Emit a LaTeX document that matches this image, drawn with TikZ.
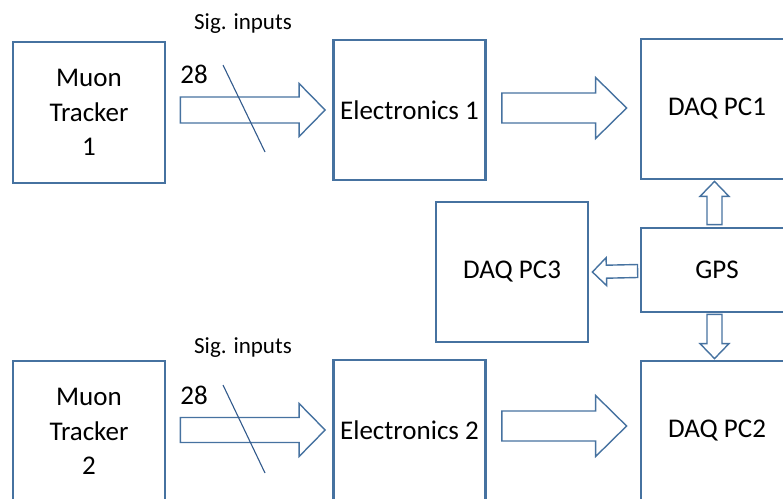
\documentclass[tikz,border=0pt]{standalone}
\usepackage{fontspec}
\setmainfont{Carlito}
\usetikzlibrary{calc}
\definecolor{boxblue}{RGB}{70,114,160}
\definecolor{slashblue}{RGB}{50,90,140}
\tikzset{
  blk/.style={draw=boxblue, line width=2.8pt, minimum width=152pt, minimum height=140pt, inner sep=0pt, align=center, font=\fontsize{27}{34.5}\selectfont},
  barrowstyle/.style={draw=boxblue, line width=1.4pt, line join=miter},
  lbl/.style={inner sep=0pt, font=\fontsize{27}{30}\selectfont},
  small/.style={inner sep=0pt, font=\fontsize{23}{26}\selectfont},
  slash/.style={draw=slashblue, line width=1.1pt}
}
% #1 tail, #2 tip, #3 shaft half width, #4 head half width, #5 head length (numbers in pt)
\newcommand{\blockarr}[5]{%
  \path let \p1=(#1), \p2=(#2), \n1={atan2(\y2-\y1,\x2-\x1)}, \n2={veclen(\x2-\x1,\y2-\y1)} in
    [barrowstyle] (\p1) -- ++(\n1+90:#3pt) -- ++(\n1:\n2-#5pt) -- ++(\n1+90:#4pt-#3pt)
    -- (\p2) -- ($(\p1)+(\n1:\n2-#5pt)+(\n1-90:#4pt)$) -- ++(\n1+90:#4pt-#3pt) -- ($(\p1)+(\n1-90:#3pt)$) -- cycle;}
\begin{document}
\begin{tikzpicture}[x=1pt,y=-1pt]
\useasboundingbox (0,0) rectangle (783,498);
\clip (0,0) rectangle (783,498);
\node[blk, minimum height=141pt] (mt1) at (89,112.5) {Muon\\Tracker\\1};
\node[blk] (el1) at (409.5,110) {Electronics 1};
\node[blk] (pc1) at (717,109) {DAQ PC1};
\node[blk] (pc3) at (512,272) {DAQ PC3};
\node[blk, minimum height=84pt] (gps) at (717,270) {GPS};
\node[blk, minimum height=141pt] (mt2) at (89,431.5) {Muon\\Tracker\\2};
\node[blk] (el2) at (409.5,430) {Electronics 2};
\node[blk] (pc2) at (717,431) {DAQ PC2};

\node[small] (sig1) at (243,24) {Sig. inputs};
\node[small] (sig2) at (243,348) {Sig. inputs};
\node[lbl] (n1) at (194,74) {28};
\node[lbl] (n2) at (194,395) {28};

% top row
\coordinate (a1s) at ($(mt1.east |- el1.west)+(14,0)$);
\coordinate (a1e) at ($(el1.west)+(-7,0)$);
\blockarr{a1s}{a1e}{13}{26.5}{26}
\coordinate (a2s) at ($(el1.east)+(15,-2)$);
\coordinate (a2e) at ($(pc1.west)+(-13,-1)$);
\blockarr{a2s}{a2e}{15}{30.5}{31}
% bottom row
\coordinate (a6s) at ($(mt2.east |- el2.west)+(14,0)$);
\coordinate (a6e) at ($(el2.west)+(-7,0)$);
\blockarr{a6s}{a6e}{12.5}{26.5}{26}
\coordinate (a7s) at ($(el2.east)+(15,-4)$);
\coordinate (a7e) at ($(pc2.west)+(-13,-5)$);
\blockarr{a7s}{a7e}{15}{30.5}{31}
% GPS arrows
\coordinate (g3s) at ($(gps.west)+(-2,1)$);
\coordinate (g3e) at ($(pc3.east)+(3,0)$);
\blockarr{g3s}{g3e}{6.5}{14}{14}
\coordinate (g1s) at ($(gps.north)+(-2.5,-2)$);
\coordinate (g1e) at ($(pc1.south)+(-2.5,1)$);
\blockarr{g1s}{g1e}{7.5}{14.5}{15}
\coordinate (g2s) at ($(gps.south)+(-2.5,1)$);
\coordinate (g2e) at ($(pc2.north)+(-2.5,-1)$);
\blockarr{g2s}{g2e}{7.5}{14.5}{15}

% slashes
\coordinate (s1a) at (223,65); \coordinate (s1b) at (265,152);
\draw[slash] (s1a) -- (s1b);
\coordinate (s2a) at (223,385); \coordinate (s2b) at (265,473);
\draw[slash] (s2a) -- (s2b);
\end{tikzpicture}
\end{document}
